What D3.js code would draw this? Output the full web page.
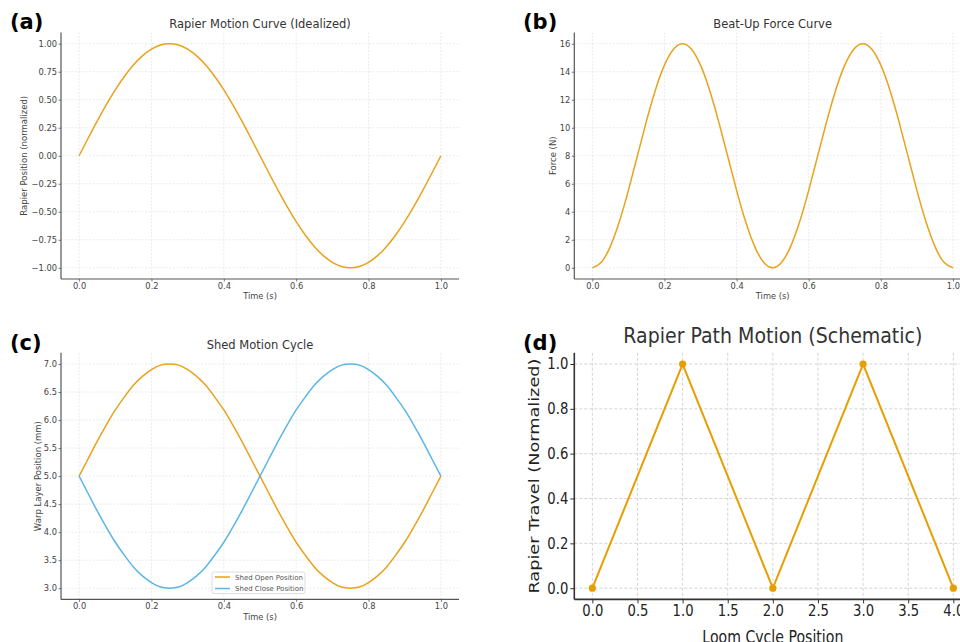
<!DOCTYPE html>
<html>
<head>
<meta charset="utf-8">
<script src="https://cdn.jsdelivr.net/npm/d3@7"></script>
<style>
  html, body { margin: 0; padding: 0; background: #fff; }
  svg { display: block; font-family: "DejaVu Sans", sans-serif; }
</style>
</head>
<body>
<svg id="chart" width="960" height="642"></svg>
<script>
// ---------------- DATA ----------------
const timeS = [0,0.025,0.05,0.075,0.1,0.125,0.15,0.175,0.2,0.225,0.25,0.275,0.3,0.325,0.35,0.375,0.4,0.425,0.45,0.475,0.5,
               0.525,0.55,0.575,0.6,0.625,0.65,0.675,0.7,0.725,0.75,0.775,0.8,0.825,0.85,0.875,0.9,0.925,0.95,0.975,1.0];

// (a) Rapier Motion Curve (Idealized)
const rapierPosition = [0,0.156,0.309,0.454,0.588,0.707,0.809,0.891,0.951,0.988,1.0,0.988,0.951,0.891,0.809,0.707,0.588,0.454,0.309,0.156,0,
                        -0.156,-0.309,-0.454,-0.588,-0.707,-0.809,-0.891,-0.951,-0.988,-1.0,-0.988,-0.951,-0.891,-0.809,-0.707,-0.588,-0.454,-0.309,-0.156,0];

// (b) Beat-Up Force Curve
const beatUpForce = [0,0.39,1.53,3.30,5.53,8.00,10.47,12.70,14.47,15.61,16.0,15.61,14.47,12.70,10.47,8.00,5.53,3.30,1.53,0.39,0,
                     0.39,1.53,3.30,5.53,8.00,10.47,12.70,14.47,15.61,16.0,15.61,14.47,12.70,10.47,8.00,5.53,3.30,1.53,0.39,0];

// (c) Shed Motion Cycle
const shedOpen  = [5,5.31,5.62,5.91,6.18,6.41,6.62,6.78,6.90,6.98,7.0,6.98,6.90,6.78,6.62,6.41,6.18,5.91,5.62,5.31,5,
                   4.69,4.38,4.09,3.82,3.59,3.38,3.22,3.10,3.02,3.0,3.02,3.10,3.22,3.38,3.59,3.82,4.09,4.38,4.69,5];
const shedClose = [5,4.69,4.38,4.09,3.82,3.59,3.38,3.22,3.10,3.02,3.0,3.02,3.10,3.22,3.38,3.59,3.82,4.09,4.38,4.69,5,
                   5.31,5.62,5.91,6.18,6.41,6.62,6.78,6.90,6.98,7.0,6.98,6.90,6.78,6.62,6.41,6.18,5.91,5.62,5.31,5];
const shedSeriesNames = ["Shed Open Position", "Shed Close Position"];

// (d) Rapier Path Motion (Schematic)
const loomCyclePosition = [0, 1, 2, 3, 4];
const rapierTravel      = [0, 1, 0, 1, 0];

// tick values
const timeTicks   = [0, 0.2, 0.4, 0.6, 0.8, 1.0];
const posTicks    = [-1, -0.75, -0.5, -0.25, 0, 0.25, 0.5, 0.75, 1.0];
const forceTicks  = [0, 2, 4, 6, 8, 10, 12, 14, 16];
const shedTicks   = [3.0, 3.5, 4.0, 4.5, 5.0, 5.5, 6.0, 6.5, 7.0];
const loomTicks   = [0, 0.5, 1.0, 1.5, 2.0, 2.5, 3.0, 3.5, 4.0];
const travelTicks = [0, 0.2, 0.4, 0.6, 0.8, 1.0];

// ---------------- STYLE ----------------
const ORANGE = "#E9A21B";
const ORANGE_D = "#E69F00";
const BLUE = "#5BB6E8";

const svg = d3.select("#chart");

function panel(cfg) {
  const g = svg.append("g");
  const x = d3.scaleLinear().domain(cfg.xDomain).range([cfg.left, cfg.right]);
  const y = d3.scaleLinear().domain(cfg.yDomain).range([cfg.bottom, cfg.top]);
  const big = cfg.big;

  // grid
  const grid = g.append("g")
    .attr("stroke", big ? "#cfcfcf" : "#e2e2e2")
    .attr("stroke-width", big ? 0.9 : 0.7)
    .attr("stroke-dasharray", big ? "3,2" : "2,1.5");
  grid.selectAll("line.vx").data(cfg.xTicks).join("line")
    .attr("x1", d => x(d)).attr("x2", d => x(d))
    .attr("y1", cfg.top).attr("y2", cfg.bottom);
  grid.selectAll("line.hy").data(cfg.yTicks).join("line")
    .attr("x1", cfg.left).attr("x2", cfg.right)
    .attr("y1", d => y(d)).attr("y2", d => y(d));

  // axes
  const tickSize = big ? 4 : 2.5;
  const pad = big ? 2 : 1.5;
  const axColor = big ? "#333" : "#555";
  const xAxis = d3.axisBottom(x).tickValues(cfg.xTicks).tickFormat(d3.format(cfg.xFmt))
    .tickSize(tickSize).tickPadding(pad);
  const yAxis = d3.axisLeft(y).tickValues(cfg.yTicks).tickFormat(d3.format(cfg.yFmt))
    .tickSize(tickSize).tickPadding(pad);

  const gx = g.append("g").attr("transform", `translate(0,${cfg.bottom})`).call(xAxis);
  const gy = g.append("g").attr("transform", `translate(${cfg.left},0)`).call(yAxis);
  [gx, gy].forEach(a => {
    a.select(".domain").remove();
    a.selectAll(".tick line").attr("stroke", axColor).attr("stroke-width", big ? 1 : 0.8);
    a.selectAll(".tick text")
      .attr("fill", big ? "#222" : "#444")
      .attr("font-family", "DejaVu Sans")
      .attr("font-size", big ? 15 : 8.3);
  });
  if (big) {
    const sx = 0.88;
    gx.selectAll(".tick text").attr("transform", `scale(${sx},1)`);
    gy.selectAll(".tick text").attr("transform", `scale(${sx},1)`)
      .attr("x", -(tickSize + pad) / sx);
  }

  // series
  const line = d3.line().x(d => x(d[0])).y(d => y(d[1]))
    .curve(cfg.curve || d3.curveLinear);
  cfg.series.forEach(s => {
    const pts = s.x.map((v, i) => [v, s.y[i]]);
    g.append("path").datum(pts)
      .attr("fill", "none").attr("stroke", s.color)
      .attr("stroke-width", s.width).attr("stroke-linejoin", "round")
      .attr("d", line);
    if (s.markers) {
      g.selectAll(null).data(pts).join("circle")
        .attr("cx", d => x(d[0])).attr("cy", d => y(d[1]))
        .attr("r", s.markers).attr("fill", s.color);
    }
  });

  // spines
  g.append("line").attr("x1", cfg.left).attr("x2", cfg.left)
    .attr("y1", cfg.top).attr("y2", cfg.bottom)
    .attr("stroke", axColor).attr("stroke-width", big ? 1.6 : 1.2);
  g.append("line").attr("x1", cfg.left).attr("x2", cfg.right)
    .attr("y1", cfg.bottom).attr("y2", cfg.bottom)
    .attr("stroke", axColor).attr("stroke-width", big ? 1.6 : 1.2);

  // title
  const cx = (cfg.left + cfg.right) / 2;
  const t = g.append("text").attr("x", cx).attr("y", cfg.titleY)
    .attr("text-anchor", "middle").attr("fill", "#333")
    .attr("font-size", big ? 22 : 11.5).text(cfg.title);
  if (cfg.titleLen) t.attr("textLength", cfg.titleLen).attr("lengthAdjust", "spacingAndGlyphs");

  // x label
  const xl = g.append("text").attr("x", cx).attr("y", cfg.xLabelY)
    .attr("text-anchor", "middle").attr("fill", big ? "#222" : "#444")
    .attr("font-size", big ? 17.4 : 8.3).text(cfg.xLabel);
  if (cfg.xLabelLen) xl.attr("textLength", cfg.xLabelLen).attr("lengthAdjust", "spacingAndGlyphs");

  // y label
  const cy = (cfg.top + cfg.bottom) / 2;
  const yl = g.append("text")
    .attr("transform", `translate(${cfg.yLabelX},${cy}) rotate(-90)` + (big ? " scale(1,0.86)" : ""))
    .attr("text-anchor", "middle").attr("fill", big ? "#222" : "#444")
    .attr("font-size", big ? 17.4 : 8.5).text(cfg.yLabel);
  if (cfg.yLabelLen) yl.attr("textLength", cfg.yLabelLen).attr("lengthAdjust", "spacingAndGlyphs");

  // panel letter
  svg.append("text").attr("x", cfg.letterX).attr("y", cfg.letterY)
    .attr("font-family", "DejaVu Sans").attr("font-weight", "bold")
    .attr("font-size", 21).attr("fill", "#000").text(cfg.letter);

  return { g, x, y };
}

// (a)
panel({
  left: 61, right: 459, top: 32.5, bottom: 279,
  xDomain: [-0.05, 1.05], yDomain: [-1.1, 1.1],
  xTicks: timeTicks, yTicks: posTicks, xFmt: ".1f", yFmt: ".2f",
  curve: d3.curveNatural,
  series: [{ x: timeS, y: rapierPosition, color: ORANGE, width: 1.5 }],
  title: "Rapier Motion Curve (Idealized)", titleY: 28.3,
  xLabel: "Time (s)", xLabelY: 299,
  yLabel: "Rapier Position (normalized)", yLabelX: 27.2,
  letter: "(a)", letterX: 10, letterY: 29
});

// (b)
panel({
  left: 574.3, right: 971, top: 32.5, bottom: 279,
  xDomain: [-0.05, 1.05], yDomain: [-0.8, 16.8],
  xTicks: timeTicks, yTicks: forceTicks, xFmt: ".1f", yFmt: "d",
  curve: d3.curveNatural,
  series: [{ x: timeS, y: beatUpForce, color: ORANGE, width: 1.5 }],
  title: "Beat-Up Force Curve", titleY: 28.3,
  xLabel: "Time (s)", xLabelY: 299,
  yLabel: "Force (N)", yLabelX: 556,
  letter: "(b)", letterX: 523, letterY: 29
});

// (c)
const pc = panel({
  left: 61, right: 459, top: 352.8, bottom: 599.4,
  xDomain: [-0.05, 1.05], yDomain: [2.8, 7.2],
  xTicks: timeTicks, yTicks: shedTicks, xFmt: ".1f", yFmt: ".1f",
  curve: d3.curveNatural,
  series: [
    { x: timeS, y: shedOpen, color: ORANGE, width: 1.5 },
    { x: timeS, y: shedClose, color: BLUE, width: 1.5 }
  ],
  title: "Shed Motion Cycle", titleY: 348.8,
  xLabel: "Time (s)", xLabelY: 619.6,
  yLabel: "Warp Layer Position (mm)", yLabelX: 40.6,
  letter: "(c)", letterX: 10, letterY: 350
});

// legend for (c)
const leg = pc.g.append("g").attr("transform", "translate(212,572)");
leg.append("rect").attr("width", 93).attr("height", 21.5).attr("rx", 2)
  .attr("fill", "#fff").attr("fill-opacity", 0.85)
  .attr("stroke", "#d4d4d4").attr("stroke-width", 0.8);
[ORANGE, BLUE].forEach((c, i) => {
  const yy = 5 + i * 11.5;
  leg.append("line").attr("x1", 3).attr("x2", 18).attr("y1", yy).attr("y2", yy)
    .attr("stroke", c).attr("stroke-width", 1.5);
  leg.append("text").attr("x", 23).attr("y", yy + 2.5)
    .attr("font-size", 7).attr("fill", "#555").text(shedSeriesNames[i]);
});

// (d)
panel({
  big: true,
  left: 574.3, right: 971.4, top: 352.8, bottom: 599.4,
  xDomain: [-0.2, 4.2], yDomain: [-0.05, 1.05],
  xTicks: loomTicks, yTicks: travelTicks, xFmt: ".1f", yFmt: ".1f",
  series: [{ x: loomCyclePosition, y: rapierTravel, color: ORANGE_D, width: 2, markers: 3.6 }],
  title: "Rapier Path Motion (Schematic)", titleY: 343, titleLen: 299,
  xLabel: "Loom Cycle Position", xLabelY: 642.5, xLabelLen: 141,
  yLabel: "Rapier Travel (Normalized)", yLabelX: 539, yLabelLen: 235,
  letter: "(d)", letterX: 523, letterY: 350
});
</script>
</body>
</html>
